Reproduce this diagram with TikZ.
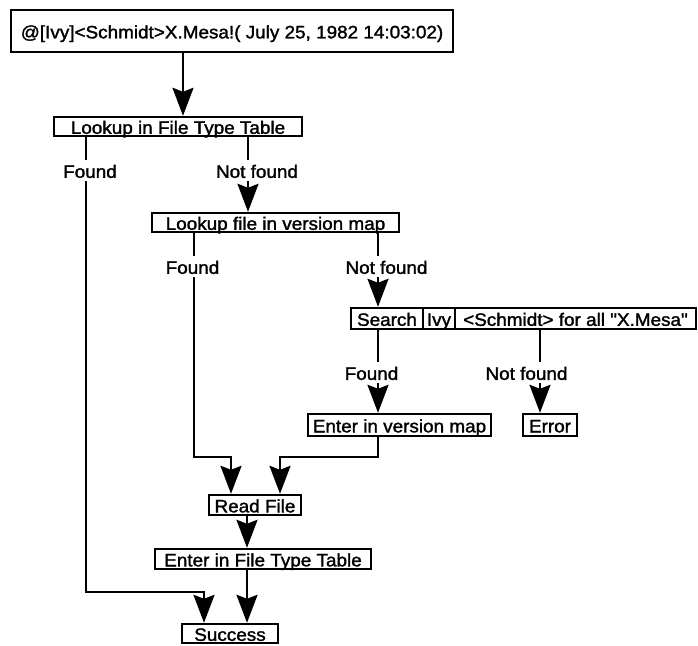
\documentclass[tikz,border=0pt]{standalone}
\usepackage{fontspec}
\setmainfont{Liberation Sans}[FakeStretch=1.05, FakeBold=1.6, Ligatures=TeXOff]
\usetikzlibrary{arrows.meta}
\begin{document}
\begin{tikzpicture}[x=1pt,y=-1pt,
  txt/.style={font=\fontsize{18}{21}\selectfont, text height=15pt, text depth=0.3pt},
  box/.style={txt, draw, line width=2.4pt, inner sep=0pt},
  lab/.style={txt, inner xsep=1pt, inner ysep=3pt},
  ln/.style={line width=2.4pt},
  arr/.style={ln, -{Stealth[length=28pt, width=21pt, inset=4pt]}}
]
\useasboundingbox (0,0) rectangle (698,645);

% boxes
\node[box, minimum width=442pt, minimum height=42pt] (top) at (232,31) {@[Ivy]<Schmidt>X.Mesa!( July 25, 1982 14:03:02)};
\node[box, minimum width=248pt, minimum height=19pt] (ftt1) at (178,126.5) {Lookup in File Type Table};
\node[box, minimum width=247pt, minimum height=19pt] (vmap) at (275.5,222.5) {Lookup file in version map};
\node[box, minimum width=72pt, minimum height=21pt] (srchA) at (387,318.5) {Search};
\node[box, minimum width=32pt, minimum height=21pt] (srchB) at (439,318.5) {Ivy};
\node[box, minimum width=241pt, minimum height=21pt] (srchC) at (575.5,318.5) {<Schmidt> for all "X.Mesa"};
\node[box, minimum width=183pt, minimum height=22pt] (evm) at (399.5,425) {Enter in version map};
\node[box, minimum width=54pt, minimum height=22pt] (err) at (550,425) {Error};
\node[box, minimum width=92pt, minimum height=20pt] (read) at (255,505) {Read File};
\node[box, minimum width=216pt, minimum height=20pt] (ftt2) at (263,559) {Enter in File Type Table};
\node[box, minimum width=96pt, minimum height=19pt] (succ) at (230,633.5) {Success};

% labels
\node[lab] (f1) at (90,170.5) {Found};
\node[lab] (nf1) at (257,170.5) {Not found};
\node[lab] (f2) at (192.5,266.5) {Found};
\node[lab] (nf2) at (386.5,266.5) {Not found};
\node[lab] (f3) at (371.5,372.5) {Found};
\node[lab] (nf3) at (526.5,372.5) {Not found};

% columns and corners
\coordinate (k1) at (183,0);
\coordinate (k2) at (86,0);
\coordinate (k3) at (248,0);
\coordinate (k4) at (194,0);
\coordinate (k5) at (378,0);
\coordinate (k6) at (540,0);
\coordinate (k7) at (247,0);
\coordinate (j1) at (231,457);
\coordinate (j2) at (280,457);
\coordinate (j3) at (204,592);

% connectors
\draw[arr] (top.south -| k1) -- (ftt1.north -| k1);
\draw[ln] (ftt1.south -| k2) -- (f1.north -| k2);
\draw[arr] (f1.south -| k2) |- (j3) -- (succ.north -| j3);
\draw[ln] (ftt1.south -| k3) -- (nf1.north -| k3);
\draw[arr] (nf1.south -| k3) -- (vmap.north -| k3);
\draw[ln] (vmap.south -| k4) -- (f2.north -| k4);
\draw[arr] (f2.south -| k4) |- (j1) -- (read.north -| j1);
\draw[ln] (vmap.south -| k5) -- (nf2.north -| k5);
\draw[arr] (nf2.south -| k5) -- (srchA.north -| k5);
\draw[ln] (srchA.south -| k5) -- (f3.north -| k5);
\draw[arr] (f3.south -| k5) -- (evm.north -| k5);
\draw[ln] (srchC.south -| k6) -- (nf3.north -| k6);
\draw[arr] (nf3.south -| k6) -- (err.north -| k6);
\draw[arr] (evm.south -| k5) |- (j2) -- (read.north -| j2);
\draw[arr] (read.south -| k7) -- (ftt2.north -| k7);
\draw[arr] (ftt2.south -| k7) -- (succ.north -| k7);
\end{tikzpicture}
\end{document}
